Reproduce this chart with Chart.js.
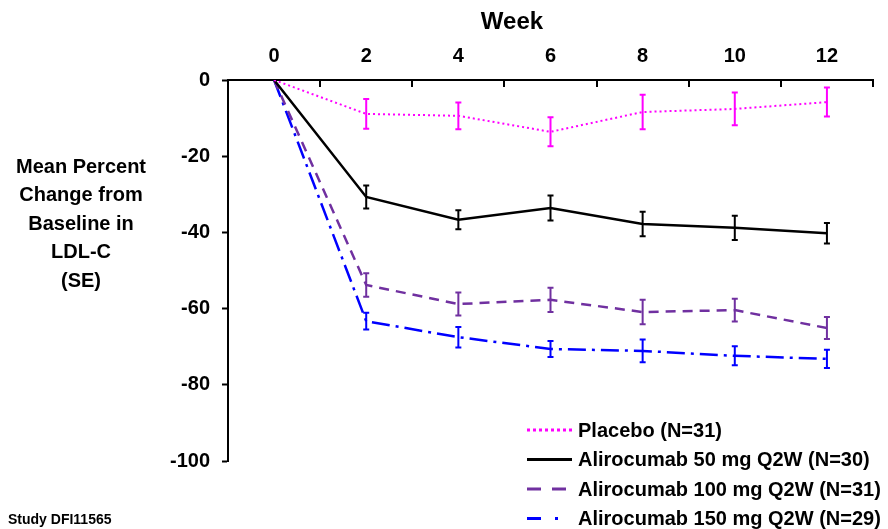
<!DOCTYPE html>
<html>
<head>
<meta charset="utf-8">
<script src="https://cdn.jsdelivr.net/npm/chart.js@4.4.0/dist/chart.umd.min.js"></script>
<style>
  html, body { margin: 0; padding: 0; background: #fff; }
  #wrap { width: 888px; height: 529px; position: relative; }
</style>
</head>
<body>
<div id="wrap"><canvas id="ldl"></canvas></div>
<script>
// Mean percent change from baseline in LDL-C by week, with standard errors
const weeks = [0, 2, 4, 6, 8, 10, 12];
const seriesLabels = [
  'Placebo (N=31)',
  'Alirocumab 50 mg Q2W (N=30)',
  'Alirocumab 100 mg Q2W (N=31)',
  'Alirocumab 150 mg Q2W (N=29)'
];
const placeboMean = [0, -8.9, -9.4, -13.6, -8.4, -7.6, -5.8];
const placeboSE   = [null, 3.9, 3.5, 3.8, 4.5, 4.3, 3.8];
const dose50Mean  = [0, -30.7, -36.7, -33.6, -37.8, -38.8, -40.2];
const dose50SE    = [null, 3.0, 2.5, 3.3, 3.2, 3.2, 2.7];
const dose100Mean = [0, -53.8, -58.8, -57.7, -60.9, -60.4, -65.1];
const dose100SE   = [null, 3.1, 3.0, 3.2, 3.2, 3.0, 2.9];
const dose150Mean = [0, -63.3, -67.5, -70.6, -71.1, -72.4, -73.2];
const dose150SE   = [null, 2.2, 2.7, 2.1, 3.0, 2.5, 2.4];
const minorWeeks  = [1, 3, 5, 7, 9, 11, 13];
const yTitleLines = ['Mean Percent', 'Change from', 'Baseline in', 'LDL-C', '(SE)'];

const FONT = "'Liberation Sans', Arial, sans-serif";

function toPoints(means) {
  return weeks.map((w, i) => ({ x: w, y: means[i] }));
}

// Vertical SE bars with small caps, same colour as the line
const errorBarPlugin = {
  id: 'errorBars',
  afterDatasetsDraw(chart) {
    const ctx = chart.ctx;
    const xs = chart.scales.x, ys = chart.scales.y;
    chart.data.datasets.forEach((ds) => {
      ctx.save();
      ctx.strokeStyle = ds.borderColor;
      ctx.lineWidth = 2;
      ctx.setLineDash([]);
      ds.data.forEach((p, i) => {
        const se = ds.se[i];
        if (se == null) return;
        const x = xs.getPixelForValue(p.x);
        const y1 = ys.getPixelForValue(p.y + se);
        const y2 = ys.getPixelForValue(p.y - se);
        ctx.beginPath();
        ctx.moveTo(x, y1); ctx.lineTo(x, y2);
        ctx.moveTo(x - 3, y1); ctx.lineTo(x + 3, y1);
        ctx.moveTo(x - 3, y2); ctx.lineTo(x + 3, y2);
        ctx.stroke();
      });
      ctx.restore();
    });
  }
};

// Week axis sits on top; its tick marks point down into the plot at odd weeks
const innerTickPlugin = {
  id: 'innerTicks',
  afterDraw(chart) {
    const ctx = chart.ctx;
    const xs = chart.scales.x;
    const top = chart.chartArea.top;
    ctx.save();
    ctx.strokeStyle = '#000';
    ctx.lineWidth = 2;
    ctx.beginPath();
    minorWeeks.forEach((w) => {
      const x = Math.round(xs.getPixelForValue(w));
      ctx.moveTo(x, top);
      ctx.lineTo(x, top + 7);
    });
    ctx.stroke();
    ctx.restore();
  }
};

// Axis titles, legend and study footnote
const decorPlugin = {
  id: 'decor',
  afterDraw(chart) {
    const ctx = chart.ctx;
    ctx.save();
    ctx.fillStyle = '#000';
    ctx.textBaseline = 'middle';

    ctx.font = 'bold 24px ' + FONT;
    ctx.textAlign = 'center';
    ctx.fillText('Week', 512, 22);

    ctx.font = 'bold 20px ' + FONT;
    yTitleLines.forEach((t, i) => ctx.fillText(t, 81, 167 + i * 28.5));

    ctx.textAlign = 'left';
    chart.data.datasets.forEach((ds, i) => {
      const y = 430 + i * 29.5;
      ctx.save();
      ctx.strokeStyle = ds.borderColor;
      ctx.lineWidth = ds.legendWidth;
      ctx.setLineDash(ds.legendDash);
      ctx.beginPath();
      ctx.moveTo(527, y);
      ctx.lineTo(572, y);
      ctx.stroke();
      ctx.restore();
      ctx.fillText(ds.label, 578, y + 1);
    });

    ctx.font = 'bold 14px ' + FONT;
    ctx.fillText('Study DFI11565', 8, 520);
    ctx.restore();
  }
};

new Chart(document.getElementById('ldl'), {
  type: 'line',
  data: {
    datasets: [
      {
        label: seriesLabels[0], data: toPoints(placeboMean), se: placeboSE,
        borderColor: '#ff00ff', borderWidth: 2, borderDash: [2, 3],
        legendWidth: 3, legendDash: [3, 3]
      },
      {
        label: seriesLabels[1], data: toPoints(dose50Mean), se: dose50SE,
        borderColor: '#000000', borderWidth: 2.5, borderDash: [],
        legendWidth: 3, legendDash: []
      },
      {
        label: seriesLabels[2], data: toPoints(dose100Mean), se: dose100SE,
        borderColor: '#7030a0', borderWidth: 2.5, borderDash: [10, 7],
        legendWidth: 3, legendDash: [14, 11]
      },
      {
        label: seriesLabels[3], data: toPoints(dose150Mean), se: dose150SE,
        borderColor: '#0000ff', borderWidth: 2.5, borderDash: [18, 6, 3, 6],
        legendWidth: 3, legendDash: [14, 14, 3, 100]
      }
    ]
  },
  options: {
    responsive: true,
    maintainAspectRatio: false,
    animation: false,
    layout: { padding: { left: 0, right: 15, top: 0, bottom: 68 } },
    elements: {
      point: { radius: 0 },
      line: { tension: 0, fill: false }
    },
    scales: {
      x: {
        type: 'linear',
        position: 'top',
        min: -1,
        max: 13,
        afterFit(scale) { scale.height = 80; },
        afterBuildTicks(scale) {
          scale.ticks = weeks.map((w) => ({ value: w }));
        },
        ticks: {
          autoSkip: false,
          maxRotation: 0,
          padding: 12,
          color: '#000',
          font: { family: FONT, size: 20, weight: 'bold' }
        },
        grid: { drawOnChartArea: false, drawTicks: false },
        border: { color: '#000', width: 2 }
      },
      y: {
        min: -100,
        max: 0,
        afterFit(scale) { scale.width = 228; },
        ticks: {
          stepSize: 20,
          padding: 12,
          color: '#000',
          font: { family: FONT, size: 20, weight: 'bold' }
        },
        grid: {
          drawOnChartArea: false,
          tickLength: 6,
          tickWidth: 2,
          tickColor: '#000'
        },
        border: { color: '#000', width: 2 }
      }
    },
    plugins: {
      legend: { display: false },
      tooltip: { enabled: false }
    }
  },
  plugins: [errorBarPlugin, innerTickPlugin, decorPlugin]
});
</script>
</body>
</html>
